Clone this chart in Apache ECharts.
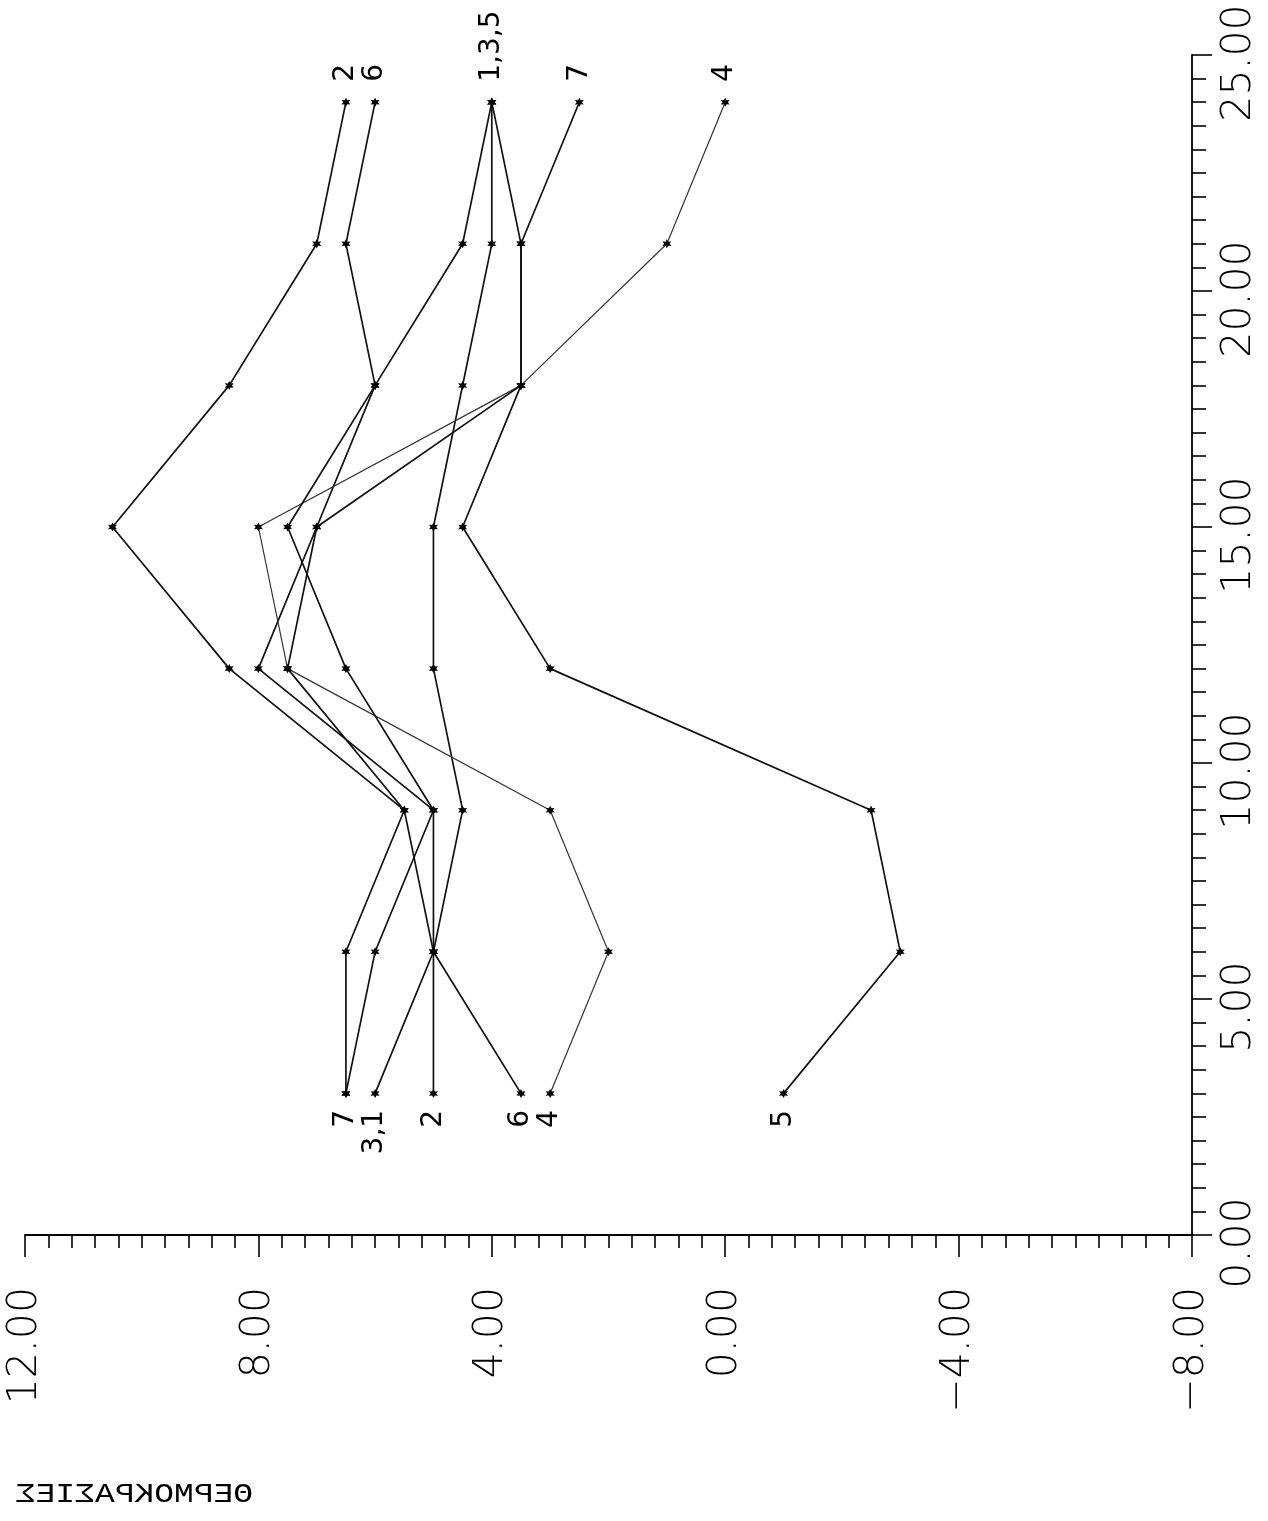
<!DOCTYPE html>
<html>
<head>
<meta charset="utf-8">
<script src="https://cdn.jsdelivr.net/npm/echarts@6/dist/echarts.min.js"></script>
<style>
html, body { margin: 0; padding: 0; background: #fff; }
#chart { width: 1268px; height: 1521px; }
</style>
</head>
<body>
<div id="chart"></div>
<script>
// hours of the day (vertical axis after the page is turned)
const hours = [3, 6, 9, 12, 15, 18, 21, 24];

// temperatures of the seven stations
const temp1 = [6.0, 5.0, 4.5, 5.0, 5.0, 4.5, 4.0, 4.0];
const temp2 = [5.0, 5.0, 5.5, 8.5, 10.5, 8.5, 7.0, 6.5];
const temp3 = [6.5, 6.0, 5.0, 8.0, 7.0, 6.0, 4.5, 4.0];
const temp4 = [3.0, 2.0, 3.0, 7.5, 8.0, 3.5, 1.0, 0.0];
const temp5 = [-1.0, -3.0, -2.5, 3.0, 4.5, 3.5, 3.5, 4.0];
const temp6 = [3.5, 5.0, 5.0, 6.5, 7.5, 6.0, 6.5, 6.0];
const temp7 = [6.5, 6.5, 5.5, 7.5, 7.0, 3.5, 3.5, 2.5];

const stationNames = ["1", "2", "3", "4", "5", "6", "7"];
const startLabels = ["3,1", "2", "", "4", "5", "6", "7"];
const endLabels = ["1,3,5", "2", "", "4", "", "6", "7"];
const axisTitle = "ΘΕΡΜΟΚΡΑΣΙΕΣ";

const allTemps = [temp1, temp2, temp3, temp4, temp5, temp6, temp7];

const starSymbol = "path://M0,-10 L2.6,-4.5 L8.7,-5 L5.2,0 L8.7,5 L2.6,4.5 L0,10 L-2.6,4.5 L-8.7,5 L-5.2,0 L-8.7,-5 L-2.6,-4.5 Z";

const labelFont = { fontFamily: "DejaVu Sans", fontSize: 28, fontWeight: "normal", color: "#000" };

function endLabel(text, where) {
    return Object.assign({
        show: true,
        formatter: text,
        position: where,
        distance: where == "top" ? 16 : 12,
        rotate: 90,
        align: where == "top" ? "left" : "right",
        verticalAlign: "middle"
    }, labelFont);
}

function buildSeries(temps, i) {
    const data = temps.map(function (v, k) {
        const item = { value: [v, hours[k]] };
        if (k == 0 && startLabels[i]) item.label = endLabel(startLabels[i], "bottom");
        if (k == temps.length - 1 && endLabels[i]) item.label = endLabel(endLabels[i], "top");
        return item;
    });
    const thin = stationNames[i] == "4";
    return {
        type: "line",
        name: stationNames[i],
        data: data,
        symbol: starSymbol,
        symbolSize: 9,
        itemStyle: { color: "#000" },
        lineStyle: { color: thin ? "#333" : "#111", width: thin ? 1.2 : 1.7 },
        label: { show: false },
        silent: true
    };
}

const tickFont = { fontFamily: "DejaVu Sans", fontSize: 41, fontWeight: 200, color: "#000" };

const chart = echarts.init(document.getElementById("chart"), null, { renderer: "canvas" });
chart.setOption({
    animation: false,
    backgroundColor: "#fff",
    grid: { left: 25, right: 76, top: 55, bottom: 286, outerBoundsMode: "none" },
    xAxis: {
        type: "value",
        inverse: true,
        min: -8, max: 12, interval: 4,
        position: "bottom",
        splitLine: { show: false },
        axisLine: { show: true, lineStyle: { color: "#000", width: 1.8 } },
        axisTick: { show: true, length: 22, lineStyle: { color: "#000", width: 1.6 } },
        minorTick: { show: true, splitNumber: 10, length: 13, lineStyle: { color: "#000", width: 1.6 } },
        axisLabel: Object.assign({
            rotate: 90,
            margin: 52,
            showMinLabel: true, showMaxLabel: true,
            formatter: function (v) { return (v < 0 ? "\u2212" : "") + Math.abs(v).toFixed(2); }
        }, tickFont)
    },
    yAxis: {
        type: "value",
        min: 0, max: 25, interval: 5,
        position: "right",
        splitLine: { show: false },
        axisLine: { show: true, onZero: false, lineStyle: { color: "#000", width: 1.8 } },
        axisTick: { show: true, length: 20, lineStyle: { color: "#000", width: 1.6 } },
        minorTick: { show: true, splitNumber: 10, length: 14, lineStyle: { color: "#000", width: 1.6 } },
        axisLabel: Object.assign({
            rotate: 90,
            margin: 27,
            padding: [0, 16, 0, 0],
            showMinLabel: true, showMaxLabel: true,
            formatter: function (v) { return v.toFixed(2); }
        }, tickFont)
    },
    graphic: [{
        type: "text",
        x: 253,
        y: 1495,
        scaleX: -1.22,
        style: {
            text: axisTitle,
            font: "27px 'Liberation Mono'",
            fill: "#000",
            align: "left",
            verticalAlign: "middle"
        }
    }],
    series: allTemps.map(buildSeries)
});
</script>
</body>
</html>
